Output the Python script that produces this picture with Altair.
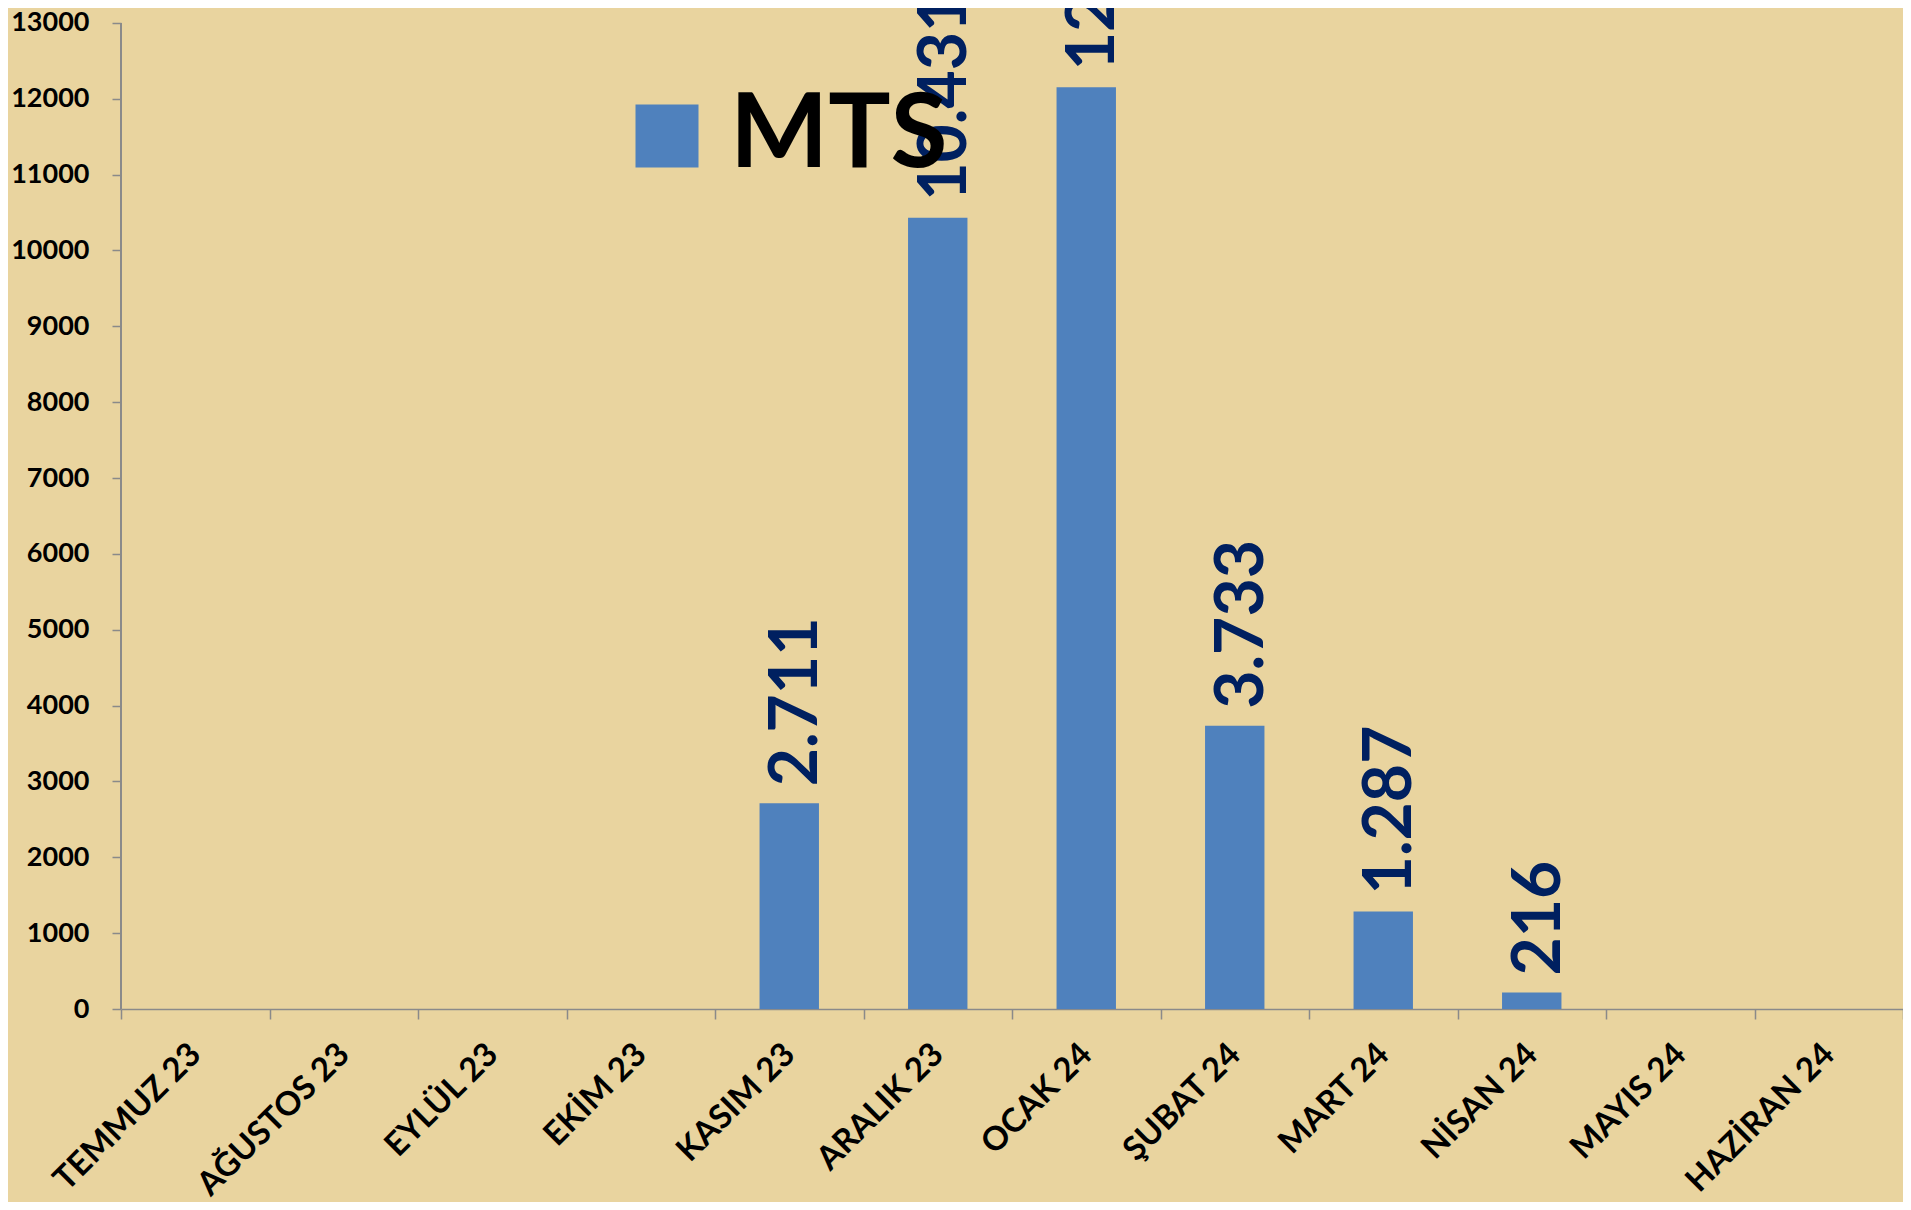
import altair as alt
import pandas as pd

months = ["TEMMUZ 23", "AĞUSTOS 23", "EYLÜL 23", "EKİM 23", "KASIM 23", "ARALIK 23",
          "OCAK 24", "ŞUBAT 24", "MART 24", "NİSAN 24", "MAYIS 24", "HAZİRAN 24"]
values = [0, 0, 0, 0, 2711, 10431, 12152, 3733, 1287, 216, 0, 0]
series_name = "MTS"
y_ticks = list(range(0, 13001, 1000))

labels = [f"{v:,}".replace(",", ".") if v > 0 else "" for v in values]
df = pd.DataFrame({"ay": months, "deger": values, "etiket": labels, "seri": series_name})

FONT = "Lato"
BG = "#E9D49F"
AXIS_GRAY = "#8A8A8A"

x_enc = alt.X(
    "ay:N", sort=months, title=None,
    scale=alt.Scale(paddingInner=0, paddingOuter=0),
    axis=alt.Axis(labelAngle=-45, labelAlign="right", labelBaseline="middle",
                  labelFont=FONT, labelFontWeight="bold", labelFontSize=33,
                  labelColor="black", labelPadding=30, tickBand="extent",
                  tickSize=10, tickColor=AXIS_GRAY, domainColor=AXIS_GRAY,
                  domainWidth=1.5, tickWidth=1.5, grid=False, labelOverlap=False,
                  labelLimit=0),
)
y_scale = alt.Scale(domain=[0, 13197], nice=False, zero=True)

bars = alt.Chart(df).mark_bar(clip=True, width=alt.RelativeBandSize(0.4)).encode(
    x=x_enc,
    y=alt.Y("deger:Q", scale=y_scale, title=None,
            axis=alt.Axis(values=y_ticks, format="d", domain=False, grid=False,
                          labelFont=FONT, labelFontWeight="bold", labelFontSize=27,
                          labelColor="black", labelPadding=23, tickSize=9,
                          tickColor=AXIS_GRAY, tickWidth=1.5)),
    color=alt.Color("seri:N", scale=alt.Scale(domain=[series_name], range=["#4F81BD"]),
                    legend=alt.Legend(title=None, orient="none", legendX=494, legendY=76,
                                      padding=0, symbolType="square", symbolSize=3969,
                                      symbolStrokeWidth=0, labelFont=FONT,
                                      labelFontWeight="bold", labelFontSize=104,
                                      labelColor="black", labelOffset=11,
                                      labelLimit=0)),
)

text = alt.Chart(df).transform_filter(alt.datum.deger > 0).mark_text(
    angle=270, align="left", baseline="middle", dx=17, dy=8,
    font=FONT, fontWeight="bold", fontSize=66, color="#002060", clip=True,
).encode(
    x=alt.X("ay:N", sort=months),
    y=alt.Y("deger:Q", scale=y_scale),
    text="etiket:N",
)

yline = alt.Chart(df).mark_rule(color=AXIS_GRAY, strokeWidth=1.5).encode(
    x=alt.value(0), y=alt.datum(0), y2=alt.datum(13000)
)

chart = alt.layer(bars, yline, text).properties(
    width=1782, height=1001,
    autosize=alt.AutoSizeParams(type="none"),
    padding={"left": 113, "top": 0, "right": 0, "bottom": 193},
    background=BG,
).configure_view(stroke=None)

chart.save("out.html", embed_options={"renderer": "svg", "actions": False})
